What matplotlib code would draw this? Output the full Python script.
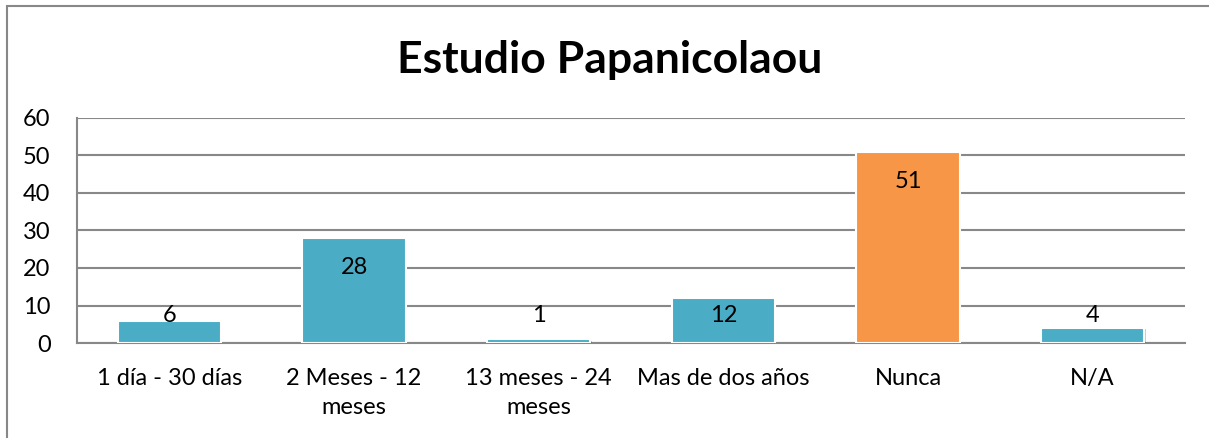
import matplotlib.pyplot as plt
import matplotlib.patheffects as pe

# datos del grafico
categorias = ['1 día - 30 días', '2 Meses - 12\nmeses', '13 meses - 24\nmeses',
              'Mas de dos años', 'Nunca', 'N/A']
valores = [6, 28, 1, 12, 51, 4]
colores = ['#4BACC6', '#4BACC6', '#4BACC6', '#4BACC6', '#F79646', '#4BACC6']

plt.rcParams['font.family'] = ['Lato', 'DejaVu Sans']

fig = plt.figure(figsize=(12.09, 4.38), dpi=100)
ax = fig.add_axes([77 / 1209, 1 - 343 / 438, (1185 - 77) / 1209, (343 - 118) / 438])

# marco exterior del grafico
borde = plt.Rectangle((7 / 1209, -0.1), 1.2, 1 - 6 / 438 + 0.1, transform=fig.transFigure,
                      fill=False, edgecolor='#888888', linewidth=1.5, zorder=0)
fig.patches.append(borde)

x = range(len(categorias))
barras = ax.bar(x, valores, width=0.56, color=colores, edgecolor='white', linewidth=1.5, zorder=3,
                path_effects=[pe.SimplePatchShadow(offset=(1, -1), alpha=0.25), pe.Normal()])

# etiquetas de valores
for xi, v in zip(x, valores):
    y_etq = max(v - 8, 7.2)
    ax.text(xi, y_etq, str(v), ha='center', va='center', fontsize=17, color='black', zorder=4)

ax.set_xlim(-0.5, len(categorias) - 0.5)
ax.set_ylim(0, 60)
ax.set_yticks(range(0, 61, 10))
ax.yaxis.grid(True, color='#888888', linewidth=1.5, zorder=0)
ax.set_axisbelow(True)

for lado in ['top', 'right']:
    ax.spines[lado].set_visible(False)
for lado in ['left', 'bottom']:
    ax.spines[lado].set_color('#888888')
    ax.spines[lado].set_linewidth(1.5)

ax.set_xticks(list(x))
ax.set_xticklabels(categorias, fontsize=17, linespacing=1.5)
ax.tick_params(axis='x', length=0, pad=18)
ax.tick_params(axis='y', length=0, labelsize=17, pad=19)
for t in ax.get_yticklabels():
    t.set_horizontalalignment('right')

fig.text(610 / 1209, 1 - 60 / 438, 'Estudio Papanicolaou', ha='center', va='center',
         fontsize=32, fontweight='bold')

fig.savefig('out.png', dpi=100)
